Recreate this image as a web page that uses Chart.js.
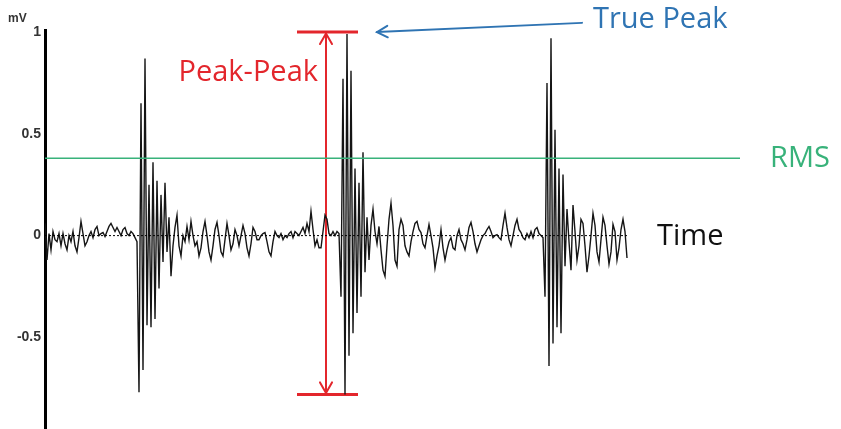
<!DOCTYPE html>
<html><head><meta charset="utf-8">
<script src="https://cdn.jsdelivr.net/npm/chart.js@4/dist/chart.umd.min.js"></script>
<style>html,body{margin:0;padding:0;background:#fff;}canvas{display:block;}</style>
</head><body>
<canvas id="c" width="841" height="429"></canvas>
<script>
// ---- data ----
const sampleStepMs = 2;
const signalMv = [
  0.06, -0.12, 0.01, -0.07, 0.02, -0.02, -0.03, 0.01, -0.05, 0.01,
  -0.04, -0.07, 0.0, -0.03, 0.02, -0.05, -0.08, -0.01, 0.07, 0.01,
  -0.05, -0.03, 0.0, 0.02, -0.01, 0.03, 0.045, 0.0, 0.01, 0.015,
  -0.005, 0.02, 0.045, 0.06, 0.04, 0.02, 0.04, 0.02, 0.0, 0.03,
  0.04, 0.01, 0.0, 0.02, 0.01, -0.01, -0.03, -0.77, 0.65, -0.66,
  0.87, -0.44, 0.25, -0.45, 0.36, -0.41, 0.27, -0.26, 0.2, -0.13,
  0.26, -0.08, 0.09, -0.2, -0.05, 0.04, 0.1, -0.05, -0.1, 0.0,
  -0.03, 0.045, -0.02, 0.07, 0.0, -0.05, -0.03, -0.1, -0.06, 0.02,
  0.07, 0.0, -0.08, -0.12, -0.05, 0.03, 0.065, 0.0, -0.08, -0.1,
  -0.02, 0.06, 0.0, -0.07, -0.04, 0.03, 0.0, -0.05, 0.0, 0.05,
  0.01, -0.06, -0.1, -0.04, 0.04, 0.02, -0.02, -0.02, 0.0, 0.01,
  0.015, -0.03, -0.08, -0.1, -0.03, 0.02, 0.0, -0.01, 0.01, -0.02,
  0.0, -0.01, 0.01, 0.02, -0.01, 0.02, 0.01, 0.0, 0.02, 0.04,
  0.01, 0.06, 0.02, 0.12, 0.03, -0.05, -0.02, -0.06, -0.06, 0.02,
  0.1, 0.08, 0.01, 0.0, 0.02, 0.0, 0.02, 0.01, -0.3, 0.77,
  -0.78, 0.99, -0.59, 0.81, -0.48, 0.33, -0.38, 0.26, -0.3, 0.41,
  -0.18, 0.09, -0.12, 0.05, 0.13, 0.02, -0.04, 0.045, -0.07, -0.17,
  -0.2, -0.05, 0.08, 0.16, 0.05, -0.12, -0.15, 0.03, 0.08, 0.05,
  -0.05, -0.08, -0.1, -0.03, 0.02, 0.06, 0.07, 0.03, 0.015, -0.04,
  -0.06, 0.0, 0.055, 0.0, -0.06, -0.16, -0.1, -0.05, 0.03, -0.06,
  -0.12, -0.07, -0.03, -0.01, -0.06, -0.07, 0.0, 0.03, -0.02, -0.04,
  -0.07, -0.02, 0.04, 0.065, 0.02, -0.04, -0.08, -0.05, -0.02, 0.0,
  0.01, 0.03, 0.045, 0.02, -0.01, 0.0, 0.005, -0.01, -0.02, 0.05,
  0.11, 0.04, -0.02, -0.05, 0.0, 0.05, 0.08, 0.03, 0.015, -0.01,
  -0.02, 0.01, -0.01, 0.02, -0.01, 0.03, 0.04, 0.01, 0.0, -0.01,
  -0.3, 0.75, -0.64, 0.97, -0.53, 0.52, -0.45, 0.33, -0.48, 0.3,
  -0.15, 0.13, -0.03, -0.17, 0.15, 0.02, -0.12, -0.05, 0.08, 0.06,
  -0.05, -0.18, -0.1, 0.0, 0.11, 0.05, -0.08, -0.13, -0.02, 0.09,
  0.05, -0.05, -0.14, -0.08, 0.055, 0.02, -0.12, -0.06, 0.03, 0.08,
  0.02, -0.11
];
const yTickValues = [1, 0.5, 0, -0.5];
const yTickLabels = ['1', '0.5', '0', '-0.5'];
const yUnitLabel = 'mV';

// annotation values (data units: ms, mV)
const rmsMv = 0.38;
const rmsEndMs = 695;
const peakMaxMv = 1.0;
const peakMinMv = -0.78;
const peakPeakAtMs = 281;
const peakBarFromMs = 252;
const peakBarToMs = 313;
const truePeakArrowTipMs = 332;
const truePeakArrowTailMs = 537;
const truePeakTailMv = 1.045;
const labels = {
  truePeak: 'True Peak',
  peakPeak: 'Peak-Peak',
  rms: 'RMS',
  time: 'Time'
};

// ---- build ----
const signalPoints = signalMv.map((v, i) => ({x: i * sampleStepMs, y: v}));
const signalEndMs = (signalMv.length - 1) * sampleStepMs;

const RED = '#e3262c', BLUE = '#2f74b3', GREEN = '#38b27a';
const TEXT_FONT = '"Open Sans", "Noto Sans", sans-serif';

const annotationPlugin = {
  id: 'annot',
  afterDatasetsDraw(chart) {
    const {ctx} = chart;
    const xs = chart.scales.x, ys = chart.scales.y;
    const X = v => xs.getPixelForValue(v), Y = v => ys.getPixelForValue(v);
    ctx.save();
    // red arrowheads
    ctx.strokeStyle = RED; ctx.lineWidth = 2; ctx.lineCap = 'round';
    const ax = X(peakPeakAtMs), at = Y(peakMaxMv), ab = Y(peakMinMv);
    ctx.beginPath();
    ctx.moveTo(ax - 6, at + 12); ctx.lineTo(ax, at + 1.5); ctx.lineTo(ax + 6, at + 12);
    ctx.moveTo(ax - 6, ab - 12); ctx.lineTo(ax, ab - 1.5); ctx.lineTo(ax + 6, ab - 12);
    ctx.stroke();
    // blue arrow
    const tx = X(truePeakArrowTipMs), ty = Y(peakMaxMv);
    const sx = X(truePeakArrowTailMs), sy = Y(truePeakTailMv);
    ctx.strokeStyle = BLUE; ctx.lineWidth = 2;
    ctx.beginPath(); ctx.moveTo(sx, sy); ctx.lineTo(tx, ty); ctx.stroke();
    const ang = Math.atan2(sy - ty, sx - tx);
    ctx.beginPath();
    ctx.moveTo(tx + 12 * Math.cos(ang - 0.5), ty + 12 * Math.sin(ang - 0.5));
    ctx.lineTo(tx, ty);
    ctx.lineTo(tx + 12 * Math.cos(ang + 0.5), ty + 12 * Math.sin(ang + 0.5));
    ctx.stroke();
    // texts
    ctx.textBaseline = 'middle';
    ctx.font = '29px ' + TEXT_FONT;
    ctx.fillStyle = BLUE; ctx.textAlign = 'left';
    ctx.fillText(labels.truePeak, sx + 11, sy - 3);
    ctx.fillStyle = RED; ctx.textAlign = 'right';
    ctx.fillText(labels.peakPeak, ax - 8, Y(0.8));
    ctx.fillStyle = GREEN; ctx.textAlign = 'left';
    ctx.fillText(labels.rms, X(rmsEndMs) + 30, Y(rmsMv));
    ctx.fillStyle = '#111';
    ctx.fillText(labels.time, X(signalEndMs) + 30, Y(0) + 1);
    // unit label
    ctx.font = 'bold 12px "Liberation Sans", Arial, sans-serif';
    ctx.fillStyle = '#333'; ctx.textAlign = 'left'; ctx.textBaseline = 'alphabetic';
    ctx.fillText(yUnitLabel, 8, ys.top - 8);
    ctx.restore();
  }
};

new Chart(document.getElementById('c'), {
  type: 'line',
  data: {
    datasets: [
      {data: [{x: 0, y: rmsMv}, {x: rmsEndMs, y: rmsMv}], borderColor: GREEN, borderWidth: 1.5, pointRadius: 0},
      {data: [{x: 0, y: 0}, {x: signalEndMs, y: 0}], borderColor: '#000', borderWidth: 1, borderDash: [2, 2], pointRadius: 0},
      {data: signalPoints, borderColor: '#151515', borderWidth: 1.4, pointRadius: 0, tension: 0},
      {data: [{x: peakBarFromMs, y: peakMaxMv}, {x: peakBarToMs, y: peakMaxMv}], borderColor: RED, borderWidth: 3, pointRadius: 0},
      {data: [{x: peakBarFromMs, y: peakMinMv}, {x: peakBarToMs, y: peakMinMv}], borderColor: RED, borderWidth: 3, pointRadius: 0},
      {data: [{x: peakPeakAtMs, y: peakMaxMv}, {x: peakPeakAtMs, y: peakMinMv}], borderColor: RED, borderWidth: 2, pointRadius: 0}
    ]
  },
  options: {
    responsive: false,
    animation: false,
    events: [],
    layout: {padding: {top: 30, right: 0, bottom: 0, left: 0}},
    plugins: {legend: {display: false}, tooltip: {enabled: false}},
    scales: {
      x: {type: 'linear', display: false, min: 0, max: 796},
      y: {
        type: 'linear', min: -0.95, max: 1.01,
        afterBuildTicks: s => { s.ticks = yTickValues.map(v => ({value: v})); },
        afterFit: s => { s.width = 45; s.paddingTop = 0; s.paddingBottom = 0; },
        grid: {display: false, drawTicks: false},
        border: {display: true, color: '#000', width: 3},
        ticks: {
          padding: 4, color: '#333',
          font: {family: '"Liberation Sans", Arial, sans-serif', size: 14, weight: 'bold'},
          callback: (v, i) => yTickLabels[i]
        }
      }
    }
  },
  plugins: [annotationPlugin]
});
</script>
</body></html>
